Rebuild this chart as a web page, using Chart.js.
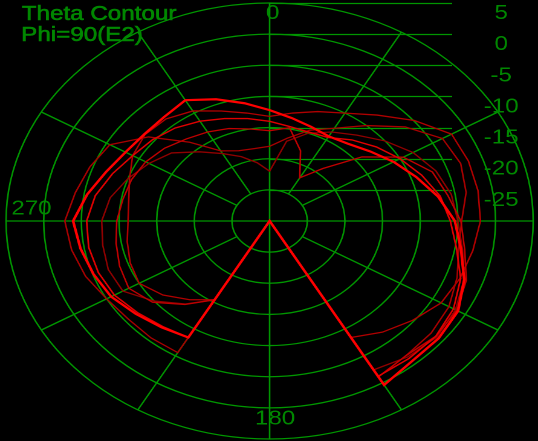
<!DOCTYPE html>
<html><head><meta charset="utf-8">
<script src="https://cdn.jsdelivr.net/npm/chart.js@4/dist/chart.umd.min.js"></script>
<style>
html,body{margin:0;padding:0;background:#000;overflow:hidden;width:538px;height:441px;}
#wrap{position:absolute;left:0;top:0;width:445px;height:441px;transform:scaleX(1.209);transform-origin:0 0;}
canvas{display:block;}
</style></head><body>
<div id="wrap"><canvas id="c" width="445" height="441"></canvas></div>
<script>
// angle (deg, clockwise from top) of each sample
const thetaDeg = [0,10,20,30,40,50,60,70,80,90,100,110,120,130,140,150,160,170,180,190,200,210,220,230,240,250,260,270,280,290,300,310,320,330,340,350];
// radial tick labels (dB)
const rTicks = [5,0,-5,-10,-15,-20,-25];
const rMin = -30, rMax = 5;
// angle labels
const angleLabels = ['0','180','270'];
const angleLabelDeg = [0,180,270];
const spokeDeg = [0,30,60,90,120,150,180,210,240,270,300,330];

// series (dB)
const curve1 = [-12.2,-13.2,-13.9,-14.3,-13.8,-12.6,-11.0,-9.3,-7.3,-5.4,-4.2,-2.5,-1.1,-0.7,-0.6,0.4,-30,-30,-30,-30,-30,-8.4,-7.7,-6.8,-5.7,-5.1,-4.5,-3.9,-5.4,-6.9,-7.9,-8.3,-8.2,-7.6,-9.2,-10.8];
const curve2 = [-13.2,-12.4,-11.3,-10.0,-7.8,-4.9,-2.1,-1.9,-1.9,-2.0,-2.6,-3.1,-3.7,-5.2,-6.7,-8.4,-30,-30,-30,-30,-30,-15.4,-13.5,-11.5,-10,-10.3,-10.8,-11.2,-11,-10.2,-9,-8.4,-8.6,-9.6,-11.2,-12.4];
const curve3 = [-18,-16.5,-14.5,-12.8,-10,-6.5,-3.5,-3,-3.5,-4.5,-4.5,-3.5,-2.5,-2,-1.8,-1.1,-30,-30,-30,-30,-30,-5.6,-5.5,-5.5,-5.0,-4.0,-3.3,-2.8,-3.8,-4.6,-5.5,-9,-13.5,-17,-18,-18.2];
const curve4 = [-22,-17,-15,-13.5,-12,-10,-8,-6.5,-5.5,-5.0,-4,-2.5,-1.5,-1,-1.5,-2.4,-30,-30,-30,-30,-30,-15.4,-12.6,-10,-7.5,-7.2,-7.5,-7.7,-8.5,-10,-11.5,-13,-15.5,-17.5,-19,-20.5];
const curve5 = [-15.5,-14.8,-18,-22,-19,-14,-9.5,-7,-6,-4.6,-3.7,-2.2,-1.3,-1.2,-1.8,-1.1,-30,-30,-30,-30,-30,-15.4,-12.5,-9.7,-8.4,-8.8,-9.3,-9.7,-10.2,-10.5,-11,-11.8,-12.8,-13.5,-14.2,-15];
const curve6 = [-14,-14.6,-14.8,-14.5,-13,-11.5,-10,-8.5,-7,-6,-4.8,-3,-1.8,-1.2,-1.2,-1.2,-30,-30,-30,-30,-30,-8.4,-7.9,-7.1,-6.2,-5.8,-5.6,-5.7,-6.5,-7.8,-9,-9.7,-10.5,-11.5,-12.5,-13.3];

const GREEN = '#009600';
const TEXT = '#008800';
const FONT = '20px "Liberation Sans", Arial, sans-serif';

const polarDecor = {
  id: 'polarDecor',
  beforeDatasetsDraw(chart) {
    const s = chart.scales.r, ctx = chart.ctx;
    ctx.save();
    ctx.strokeStyle = GREEN;
    ctx.lineWidth = 1.3;
    spokeDeg.forEach(a => {
      const idx = thetaDeg.indexOf(a);
      const inner = (a % 90 === 0) ? rMin : rTicks[rTicks.length - 1];
      const p0 = s.getPointPositionForValue(idx, inner);
      const p1 = s.getPointPositionForValue(idx, rMax);
      ctx.beginPath(); ctx.moveTo(p0.x, p0.y); ctx.lineTo(p1.x, p1.y); ctx.stroke();
    });
    rTicks.forEach(v => {
      const y = Math.round(s.yCenter - s.getDistanceFromCenterForValue(v)) + 0.5;
      ctx.beginPath(); ctx.moveTo(s.xCenter, y); ctx.lineTo(s.xCenter + 151, y); ctx.stroke();
    });
    ctx.restore();
  },
  afterDraw(chart) {
    const s = chart.scales.r, ctx = chart.ctx;
    ctx.save();
    ctx.fillStyle = TEXT;
    ctx.strokeStyle = TEXT;
    ctx.lineWidth = 0.6;
    ctx.font = FONT;
    ctx.textAlign = 'center';
    ctx.textBaseline = 'middle';
    rTicks.forEach(v => {
      const y = s.yCenter - s.getDistanceFromCenterForValue(v) + 10.5;
      ctx.fillText(String(v), s.xCenter + 191.5, y);
    });
    const offs = {0: [2.5, 10.5], 180: [4.5, -20], 270: [21, -12]};
    angleLabels.forEach((t, i) => {
      const a = angleLabelDeg[i];
      const p = s.getPointPositionForValue(thetaDeg.indexOf(a), rMax);
      const o = offs[a];
      ctx.fillText(t, p.x + o[0], p.y + o[1]);
    });
    ctx.textAlign = 'left';
    ctx.textBaseline = 'alphabetic';
    ctx.fillText('Theta Contour', 18, 20);
    ctx.strokeText('Theta Contour', 18, 20);
    ctx.fillText('Phi=90(E2)', 17.5, 41);
    ctx.strokeText('Phi=90(E2)', 17.5, 41);
    ctx.restore();
  }
};

function ds(data, color, w) {
  return {data, borderColor: color, borderWidth: w, pointRadius: 0, fill: false, tension: 0};
}

// first dataset is drawn on top
new Chart(document.getElementById('c'), {
  type: 'radar',
  data: {
    labels: thetaDeg.map(String),
    datasets: [
      ds(curve1, '#ff0000', 2.2),
      ds(curve6, '#e00000', 1.4),
      ds(curve5, '#c00000', 1.3),
      ds(curve3, '#a80000', 1.3),
      ds(curve2, '#b00000', 1.3),
      ds(curve4, '#900000', 1.3)
    ]
  },
  options: {
    responsive: false,
    animation: false,
    devicePixelRatio: 2,
    layout: {padding: {top: 3, bottom: 1, left: 1, right: 0}},
    plugins: {legend: {display: false}, tooltip: {enabled: false}},
    scales: {
      r: {
        min: rMin, max: rMax,
        ticks: {display: false, stepSize: 5},
        pointLabels: {display: false},
        angleLines: {display: false},
        grid: {circular: true, color: GREEN, lineWidth: 1.3}
      }
    }
  },
  plugins: [polarDecor]
});
</script>
</body></html>
